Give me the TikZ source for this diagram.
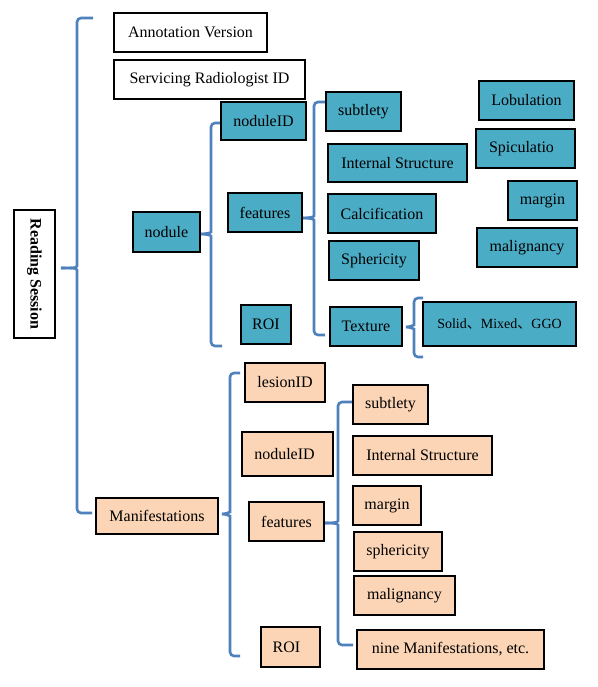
\documentclass[tikz,border=0pt]{standalone}
\usepackage{fontspec}
\setmainfont{Liberation Serif}
\newfontfamily\cjk{Noto Sans CJK SC}
\definecolor{tealbox}{HTML}{4BACC6}
\definecolor{peach}{HTML}{FBD5B5}
\definecolor{bracecol}{HTML}{4F81BD}
\tikzset{
  bx/.style={draw=black, line width=1.5pt, inner sep=0pt, align=center,
    font=\fontsize{16}{19}\selectfont},
  wbox/.style={bx, fill=white},
  tbox/.style={bx, fill=tealbox},
  pbox/.style={bx, fill=peach},
  brc/.style={draw=bracecol, line width=2.6pt, rounded corners=4pt},
}
\newcommand\mybrace[7]{%
  \draw[brc] (#3,#2) -- (#1,#2) -- (#1,#4-6) to[out=-90,in=0] (#5,#4);
  \draw[brc] (#7,#6) -- (#1,#6) -- (#1,#4+6) to[out=90,in=0] (#5,#4);}
\begin{document}
\begin{tikzpicture}[x=1pt,y=-1pt]
\useasboundingbox[fill=white] (0,0) rectangle (597,687);
% braces
\mybrace{77}{18}{93}{268}{61}{513}{92}
\mybrace{211}{123}{220}{234}{200}{346}{222}
\mybrace{314}{102}{325}{218}{302}{335}{325}
\mybrace{414}{298}{423}{327}{406}{357}{423}
\mybrace{230}{373}{240}{514}{222}{656}{240}
\mybrace{338}{402}{353}{523}{324}{645}{353}
% white boxes
\node[wbox, minimum width=153, minimum height=39] (av) at (190.5,32.5) {Annotation Version};
\node[wbox, minimum width=191, minimum height=39] (sr) at (209.5,79.5) {Servicing Radiologist ID};
\node[wbox, minimum width=41, minimum height=128] (rs) at (34.5,274) {};
\node[rotate=-90, font=\fontsize{16}{19}\selectfont\bfseries] (rst) at (rs.center) {Reading Session};
% teal boxes
\node[tbox, minimum width=85, minimum height=38] (nid1) at (263.5,121) {noduleID};
\node[tbox, minimum width=74, minimum height=39] (feat1) at (265,212.5) {features};
\node[tbox, minimum width=67, minimum height=40] (nod) at (166.5,232) {nodule};
\node[tbox, minimum width=50, minimum height=39] (roi1) at (266,324.5) {ROI};
\node[tbox, minimum width=75, minimum height=39] (sub1) at (363.5,111.5) {subtlety};
\node[tbox, minimum width=139, minimum height=38] (is1) at (397.5,163) {Internal Structure};
\node[tbox, minimum width=108, minimum height=39] (calc) at (382,213.5) {Calcification};
\node[tbox, minimum width=90, minimum height=39] (sph1) at (374,260.5) {Sphericity};
\node[tbox, minimum width=72, minimum height=39] (tex) at (366,326.5) {Texture};
\node[tbox, minimum width=153, minimum height=44, font=\fontsize{14}{17}\selectfont] (sol) at (499.5,324) {Solid{\cjk 、}Mixed{\cjk 、}GGO};
\node[tbox, minimum width=95, minimum height=39] (lob) at (526.5,100.5) {Lobulation};
\node[tbox, minimum width=99, minimum height=39] (spi) at (525.5,148.5) {Spiculatio\hspace{8pt}};
\node[tbox, minimum width=69, minimum height=39] (mar1) at (542.5,200.5) {margin};
\node[tbox, minimum width=100, minimum height=39] (mal1) at (527,247.5) {malignancy};
% peach boxes
\node[pbox, minimum width=80, minimum height=39] (les) at (285,382.5) {lesionID};
\node[pbox, minimum width=91, minimum height=44] (nid2) at (287.5,454) {noduleID\hspace{6pt}};
\node[pbox, minimum width=75, minimum height=39] (feat2) at (286.5,521.5) {features};
\node[pbox, minimum width=122, minimum height=36] (man) at (157,516) {Manifestations};
\node[pbox, minimum width=59, minimum height=40] (roi2) at (290.5,647) {ROI\hspace{8pt}};
\node[pbox, minimum width=75, minimum height=39] (sub2) at (390.5,404.5) {subtlety};
\node[pbox, minimum width=139, minimum height=39] (is2) at (422.5,455.5) {Internal Structure};
\node[pbox, minimum width=68, minimum height=39] (mar2) at (387,505.5) {margin};
\node[pbox, minimum width=88, minimum height=39] (sph2) at (398,551.5) {sphericity};
\node[pbox, minimum width=101, minimum height=39] (mal2) at (404.5,595.5) {malignancy};
\node[pbox, minimum width=187, minimum height=39] (nine) at (450.5,649.5) {nine Manifestations, etc.};
\end{tikzpicture}
\end{document}
